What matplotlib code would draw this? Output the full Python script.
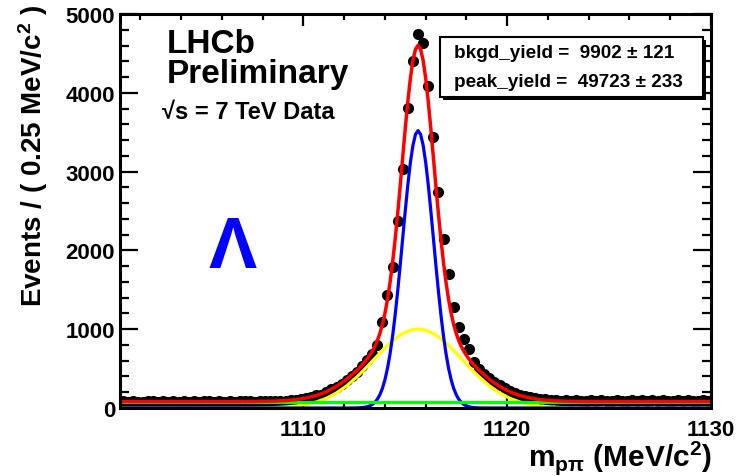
import numpy as np
import matplotlib
matplotlib.use('Agg')
import matplotlib.pyplot as plt
from matplotlib.patches import Rectangle
from matplotlib.ticker import MultipleLocator

# binning of the histogram (0.25 MeV/c^2 per bin)
mass_lo, mass_hi, bin_width = 1101.0, 1130.0, 0.25

# events per bin
counts = [
    84, 79, 88, 81, 76, 90, 83, 78, 86, 80, 92, 77, 85, 81, 89, 79,
    83, 87, 76, 91, 82, 86, 80, 88, 84, 93, 81, 87, 85, 90, 83, 89,
    92, 103, 101, 118,
    124, 137, 162, 171, 199, 243, 268, 309, 351, 405, 462, 531,
    604, 680, 805, 1092, 1434, 1786, 2369, 3033, 3803, 4407, 4746, 4632,
    4090, 3435, 2745, 2145, 1700, 1278, 1024, 876, 745, 590, 500, 430,
    375, 330, 290, 255, 220, 195, 168, 152, 138, 128, 118, 110,
    104, 99, 95,
    96, 91, 99, 88, 94, 102, 90, 97, 93, 86, 100, 95, 89, 98, 92,
    104, 91, 96, 87, 99, 94, 90, 101, 93, 97, 88, 95, 100, 92,
]

# fit components sampled along the mass axis
curve_x = [
    1101.0,
    1107.125, 1107.625, 1108.125, 1108.625, 1109.125, 1109.625,
    1110.125, 1110.625, 1111.125, 1111.625, 1112.125,
    1112.625, 1112.75, 1112.875, 1113.0, 1113.125, 1113.25, 1113.375, 1113.5,
    1113.625, 1113.75, 1113.875, 1114.0, 1114.125, 1114.25, 1114.375, 1114.5,
    1114.625, 1114.75, 1114.875, 1115.0, 1115.125, 1115.25, 1115.375, 1115.5,
    1115.625,
    1115.75, 1115.875, 1116.0, 1116.125, 1116.25, 1116.375, 1116.5, 1116.625,
    1116.75, 1116.875, 1117.0, 1117.125, 1117.25, 1117.375, 1117.5, 1117.625,
    1117.75, 1117.875, 1118.0, 1118.125, 1118.25, 1118.375, 1118.5, 1118.625,
    1119.125, 1119.625, 1120.125, 1120.625, 1121.125, 1121.625,
    1122.125, 1122.625, 1123.125, 1123.625, 1124.125,
    1130.0,
]
narrow_peak = [
    0,
    0, 0, 0, 0, 0, 0, 0, 0, 0, 0, 0,
    1, 3, 5, 9, 16, 27, 44, 71, 110, 168, 248, 358,
    502, 685, 910, 1177, 1481, 1814, 2163, 2510, 2835, 3117, 3334, 3473,
    3520,
    3473, 3334, 3117, 2835, 2510, 2163, 1814, 1481, 1177, 910, 685, 502,
    358, 248, 168, 110, 71, 44, 27, 16, 9, 5, 3, 1,
    0, 0, 0, 0, 0, 0, 0, 0, 0, 0, 0,
    0,
]
wide_peak = [
    0,
    0, 1, 3, 6, 13, 24, 44, 76, 123, 192, 282,
    395, 426, 458, 491, 524, 558, 593, 627, 662, 695, 729, 761,
    793, 823, 851, 877, 902, 924, 944, 960, 974, 986, 994, 998,
    1000,
    998, 994, 986, 974, 960, 944, 924, 902, 877, 851, 823, 793,
    761, 729, 695, 662, 627, 593, 558, 524, 491, 458, 426, 395,
    282, 192, 123, 76, 44, 24, 13, 6, 3, 1, 0,
    0,
]
bkgd_per_bin = 82

centers = np.arange(mass_lo + bin_width / 2, mass_hi, bin_width)
cx = np.array(curve_x)
narrow = np.array(narrow_peak)
wide = np.array(wide_peak)
bkgd = np.full(len(cx), bkgd_per_bin)
total = bkgd + wide + narrow

plt.rcParams['font.family'] = ['Liberation Sans', 'DejaVu Sans']
plt.rcParams['font.weight'] = 'bold'
plt.rcParams['mathtext.fontset'] = 'custom'
plt.rcParams['mathtext.rm'] = 'Liberation Sans:bold'
plt.rcParams['mathtext.it'] = 'Liberation Sans:bold'
plt.rcParams['mathtext.bf'] = 'Liberation Sans:bold'

W, H = 743, 477
fig = plt.figure(figsize=(W / 100, H / 100), dpi=100)
ax = fig.add_axes([120 / W, 1 - 409 / H, 591 / W, 394 / H])


def fpos(px, py):
    # pixel position (from top-left) -> figure fraction
    return px / W, 1 - py / H


ax.plot(centers, counts, 'o', color='black', ms=7, zorder=2)
ax.plot(cx, wide, color='#ffff00', lw=2.3, zorder=3)
ax.plot(cx, narrow, color='#0000ff', lw=2.3, zorder=4)
ax.plot(cx, bkgd, color='#00ff00', lw=2.3, zorder=4)
ax.plot(cx, total, color='#ff0000', lw=2.5, zorder=5)

ax.set_xlim(mass_lo, mass_hi)
ax.set_ylim(0, 5000)
ax.xaxis.set_major_locator(MultipleLocator(10))
ax.xaxis.set_minor_locator(MultipleLocator(2))
ax.yaxis.set_major_locator(MultipleLocator(1000))
ax.yaxis.set_minor_locator(MultipleLocator(200))
ax.tick_params(which='both', direction='in', top=True, right=True, width=1.6,
               labelsize=16)
ax.tick_params(axis='x', which='major', length=8.6, pad=8)
ax.tick_params(axis='x', which='minor', length=4.3)
ax.tick_params(axis='y', which='major', length=13, pad=3.5)
ax.tick_params(axis='y', which='minor', length=6.5)
for s in ax.spines.values():
    s.set_linewidth(2.2)
    s.set_zorder(10)

fig.text(*fpos(33, 5), 'Events / ( 0.25 MeV/c$^{2}$ )', rotation=90,
         ha='center', va='top', fontsize=20)
fig.text(*fpos(712, 466), 'm$_{p\\pi}$ (MeV/c$^{2}$)', ha='right',
         va='baseline', fontsize=21.5)

fig.text(*fpos(167, 53), 'LHCb', fontsize=24, va='baseline')
fig.text(*fpos(167, 83), 'Preliminary', fontsize=24, va='baseline')
fig.text(*fpos(162, 119), '\u221as = 7 TeV Data', fontsize=17, va='baseline')
fig.text(*fpos(233, 268), '\u039b', color='#0000ff', fontsize=52,
         ha='center', va='baseline')

# fit result box with shadow
fig.add_artist(Rectangle(fpos(443, 101), 263 / W, 60 / H, transform=fig.transFigure,
                         facecolor='black', edgecolor='none', zorder=20))
fig.add_artist(Rectangle(fpos(440, 98), 263 / W, 60 / H, transform=fig.transFigure,
                         facecolor='white', edgecolor='black', lw=1.5, zorder=21))
fig.text(*fpos(454, 58), 'bkgd_yield =  9902 \u00b1 121', fontsize=13.6,
         va='baseline', zorder=22)
fig.text(*fpos(454, 87), 'peak_yield =  49723 \u00b1 233', fontsize=13.6,
         va='baseline', zorder=22)

fig.savefig('out.png', dpi=100)
